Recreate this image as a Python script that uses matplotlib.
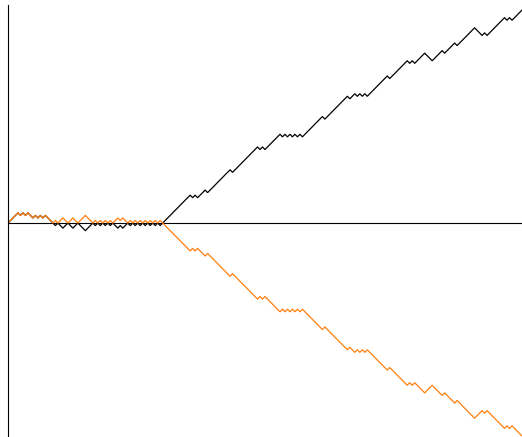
import matplotlib
matplotlib.use('Agg')
import matplotlib.pyplot as plt
import numpy as np

# Walk described as signed run lengths (+n = n steps up, -n = n steps down)
excursion_runs = [4, -1, 1, -1, 1, -2, 1, -1, 1, -1, 1, -1, -2]
below_runs = [-1, 1, -2, 2, -2, 2, -3, 3,
              -1, 1, -1, 1, -1, 1, -1, 1,
              -2, 1, -1, 2,
              -1, 1, -1, 1, -1, 1, -1, 1, -1, 1, -1, 1, -1, 1]
climb_runs = [11, -1, 1, -1, 3, -1, 9, -1, 10, -1, 1, -1, 6,
              -1, 1, -1, 1, -1, 1, -1, 1, -1,
              8, -1, 9,
              -1, 2, -1, 1, -1, 1, -1,
              8, -1, 7, -1, 1, -1, 4, -3, 4, -1, 4, -1, 7, -3, 1, -1,
              7, -1, 1, -1, 4]

runs = np.array(excursion_runs + below_runs + climb_runs)
steps = np.repeat(np.sign(runs), np.abs(runs))
walk = np.concatenate([[0], np.cumsum(steps)])
t = np.arange(len(walk))

# reflected walk: mirror the path after its first return to zero
first_zero = np.argmax((t > 0) & (walk == 0))
reflected = walk.copy()
reflected[first_zero:] = -walk[first_zero:]

fig = plt.figure(figsize=(5.22, 4.37), dpi=100)
ax = fig.add_axes([8 / 522, 0, 1 - 8 / 522, 1 - 5 / 437])

ax.plot(t, walk, color='black', linewidth=0.9)
ax.plot(t, reflected, color='#ff7f0e', linewidth=0.9)

ax.set_xlim(0, len(walk) - 1)
ax.set_ylim(-84.4, 86)
ax.spines['top'].set_visible(False)
ax.spines['right'].set_visible(False)
ax.spines['bottom'].set_position(('data', 0))
ax.spines['bottom'].set_zorder(0)
ax.set_xticks([])
ax.set_yticks([])

fig.savefig('out.png', dpi=100)
